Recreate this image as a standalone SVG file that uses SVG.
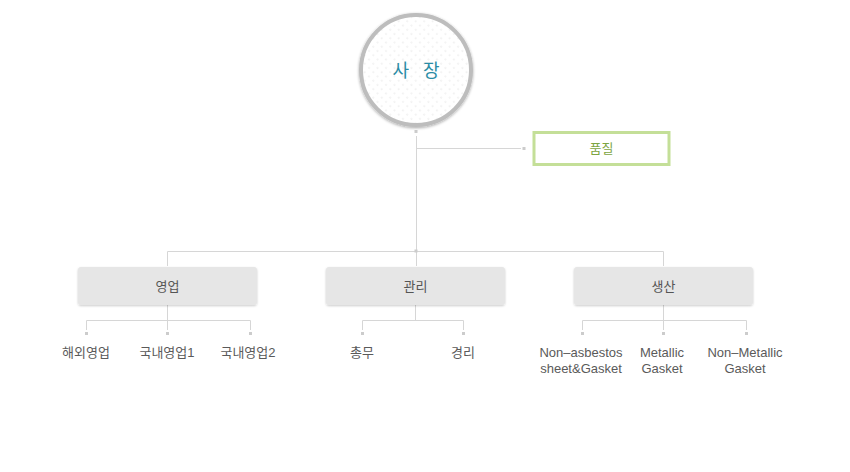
<svg xmlns="http://www.w3.org/2000/svg" width="850" height="472" viewBox="0 0 850 472">
<defs>
<pattern id="dots" width="6" height="6" patternUnits="userSpaceOnUse" patternTransform="rotate(45)">
<rect width="6" height="6" fill="#ffffff"/>
<circle cx="3" cy="3" r="0.6" fill="#d0d0d0"/>
</pattern>
<filter id="soft" x="-20%" y="-20%" width="140%" height="140%">
<feGaussianBlur in="SourceAlpha" stdDeviation="1.5"/>
<feOffset dx="0" dy="1" result="b"/>
<feComponentTransfer><feFuncA type="linear" slope="0.35"/></feComponentTransfer>
<feMerge><feMergeNode/><feMergeNode in="SourceGraphic"/></feMerge>
</filter>
<filter id="boxsh" x="-10%" y="-20%" width="120%" height="150%">
<feGaussianBlur in="SourceAlpha" stdDeviation="1"/>
<feOffset dx="0" dy="1" result="b"/>
<feComponentTransfer><feFuncA type="linear" slope="0.2"/></feComponentTransfer>
<feMerge><feMergeNode/><feMergeNode in="SourceGraphic"/></feMerge>
</filter>
</defs>
<style>
.ln{stroke:#d6d6d6;stroke-width:1;fill:none}
.sq{fill:#cccccc}
.box{fill:#e6e6e6}
.bt{font-family:"Liberation Sans","Noto Sans CJK KR",sans-serif;font-size:13px;fill:#555555;text-anchor:middle}
.lt{font-family:"Liberation Sans","Noto Sans CJK KR",sans-serif;font-size:13px;fill:#5a5a5a;text-anchor:middle}
</style>
<rect width="850" height="472" fill="#ffffff"/>
<g id="connectors">
<rect class="sq" x="414.5" y="130" width="3" height="3"/>
<path class="ln" d="M416.5 136 V250"/>
<path class="ln" d="M416.5 148.5 H521"/>
<rect class="sq" x="522.5" y="147" width="3" height="3"/>
<path class="ln" d="M167.5 266 V251.5 H663.5 V266"/>
<path class="ln" d="M416.5 251.5 V266"/>
<rect class="sq" x="414.5" y="249.5" width="3" height="3"/>
<path class="ln" d="M167.5 305 V320.5 M86.5 330 V320.5 H250.5 V330 M167.5 320.5 V330"/>
<rect class="sq" x="85" y="332" width="3" height="3"/>
<rect class="sq" x="166" y="332" width="3" height="3"/>
<rect class="sq" x="249" y="332" width="3" height="3"/>
<path class="ln" d="M415.5 305 V320.5 M362.5 330 V320.5 H463.5 V330"/>
<rect class="sq" x="361" y="332" width="3" height="3"/>
<rect class="sq" x="462" y="332" width="3" height="3"/>
<path class="ln" d="M663.5 305 V330 M582.5 330 V320.5 H746.5 V330"/>
<rect class="sq" x="581" y="332" width="3" height="3"/>
<rect class="sq" x="662" y="332" width="3" height="3"/>
<rect class="sq" x="745" y="332" width="3" height="3"/>
</g>
<g id="ceo">
<circle cx="416" cy="70" r="55" fill="url(#dots)" stroke="#bdbdbd" stroke-width="4" filter="url(#soft)"/>
<text x="418.5" y="77" font-family="'Noto Sans CJK KR',sans-serif" font-size="18" fill="#2b8ca5" text-anchor="middle" letter-spacing="5">사 장</text>
</g>
<g id="quality">
<rect x="534" y="132.5" width="135" height="32" fill="#ffffff" stroke="#c4df98" stroke-width="3"/>
<text class="bt" x="601.5" y="153" style="fill:#7da542">품질</text>
</g>
<g id="sales">
<rect class="box" x="78" y="267" width="179" height="38" rx="3" filter="url(#boxsh)"/>
<text class="bt" x="167.5" y="290.5">영업</text>
</g>
<g id="admin">
<rect class="box" x="326" y="267" width="179" height="38" rx="3" filter="url(#boxsh)"/>
<text class="bt" x="415.5" y="290.5">관리</text>
</g>
<g id="production">
<rect class="box" x="574" y="267" width="179" height="38" rx="3" filter="url(#boxsh)"/>
<text class="bt" x="663.5" y="290.5">생산</text>
</g>
<g id="sales-sub">
<text class="lt" x="86" y="357">해외영업</text>
<text class="lt" x="167" y="357">국내영업1</text>
<text class="lt" x="248" y="357">국내영업2</text>
</g>
<g id="admin-sub">
<text class="lt" x="362" y="357">총무</text>
<text class="lt" x="463" y="357">경리</text>
</g>
<g id="production-sub">
<text class="lt" x="581" y="357">Non–asbestos</text>
<text class="lt" x="581" y="373">sheet&amp;Gasket</text>
<text class="lt" x="662" y="357">Metallic</text>
<text class="lt" x="662" y="373">Gasket</text>
<text class="lt" x="745" y="357">Non–Metallic</text>
<text class="lt" x="745" y="373">Gasket</text>
</g>
</svg>
